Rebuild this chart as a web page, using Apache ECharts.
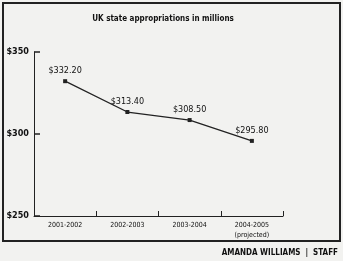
<!DOCTYPE html>
<html>
<head>
<meta charset="utf-8">
<script src="https://cdn.jsdelivr.net/npm/echarts@6/dist/echarts.min.js"></script>
<style>
  html, body { margin: 0; padding: 0; background: #f2f2f0; }
  #main { width: 343px; height: 261px; }
</style>
</head>
<body>
<div id="main"></div>
<script>
const years = ['2001-2002', '2002-2003', '2003-2004', '2004-2005\n(projected)']
const millions = [332.2, 313.4, 308.5, 295.8]
const yTicks = [250, 300, 350]

const font = '"DejaVu Sans Condensed", "Liberation Sans Narrow", sans-serif'

const chart = echarts.init(document.getElementById('main'))
chart.setOption({
  backgroundColor: '#f2f2f0',
  animation: false,
  title: {
    text: 'UK state appropriations in millions',
    left: 158,
    textAlign: 'center',
    top: 10,
    textStyle: { fontFamily: font, fontSize: 8, fontWeight: 'bold', color: '#111' }
  },
  grid: { left: 34, right: 60, top: 52, bottom: 45 },
  xAxis: {
    type: 'category',
    data: years,
    axisLine: { lineStyle: { color: '#222', width: 1 } },
    axisTick: { show: true, inside: true, length: 5, lineStyle: { color: '#222', width: 1 } },
    axisLabel: { fontFamily: font, fontSize: 7, color: '#111', margin: 4, lineHeight: 10 }
  },
  yAxis: {
    type: 'value',
    min: yTicks[0],
    max: yTicks[yTicks.length - 1],
    interval: 50,
    splitLine: { show: false },
    axisLine: { show: true, lineStyle: { color: '#222', width: 1 } },
    axisTick: { show: true, inside: true, length: 6, lineStyle: { color: '#222', width: 1.5 } },
    axisLabel: {
      fontFamily: font, fontSize: 9, fontWeight: 'bold', color: '#111', margin: 5,
      formatter: v => '$' + v
    }
  },
  series: [{
    type: 'line',
    data: millions,
    symbol: 'rect',
    symbolSize: 4,
    lineStyle: { color: '#222', width: 1.3 },
    itemStyle: { color: '#222' },
    label: {
      show: true,
      position: 'top',
      distance: 4,
      fontFamily: font,
      fontSize: 9,
      color: '#111',
      formatter: p => '$' + p.value.toFixed(2)
    }
  }],
  graphic: [
    {
      type: 'rect',
      shape: { x: 3, y: 3, width: 337, height: 238 },
      style: { fill: 'none', stroke: '#222', lineWidth: 2 },
      silent: true
    },
    {
      type: 'text',
      right: 5,
      top: 249,
      style: { text: 'AMANDA WILLIAMS  |  STAFF', font: 'bold 8px ' + font, fill: '#111' }
    }
  ]
})
</script>
</body>
</html>
